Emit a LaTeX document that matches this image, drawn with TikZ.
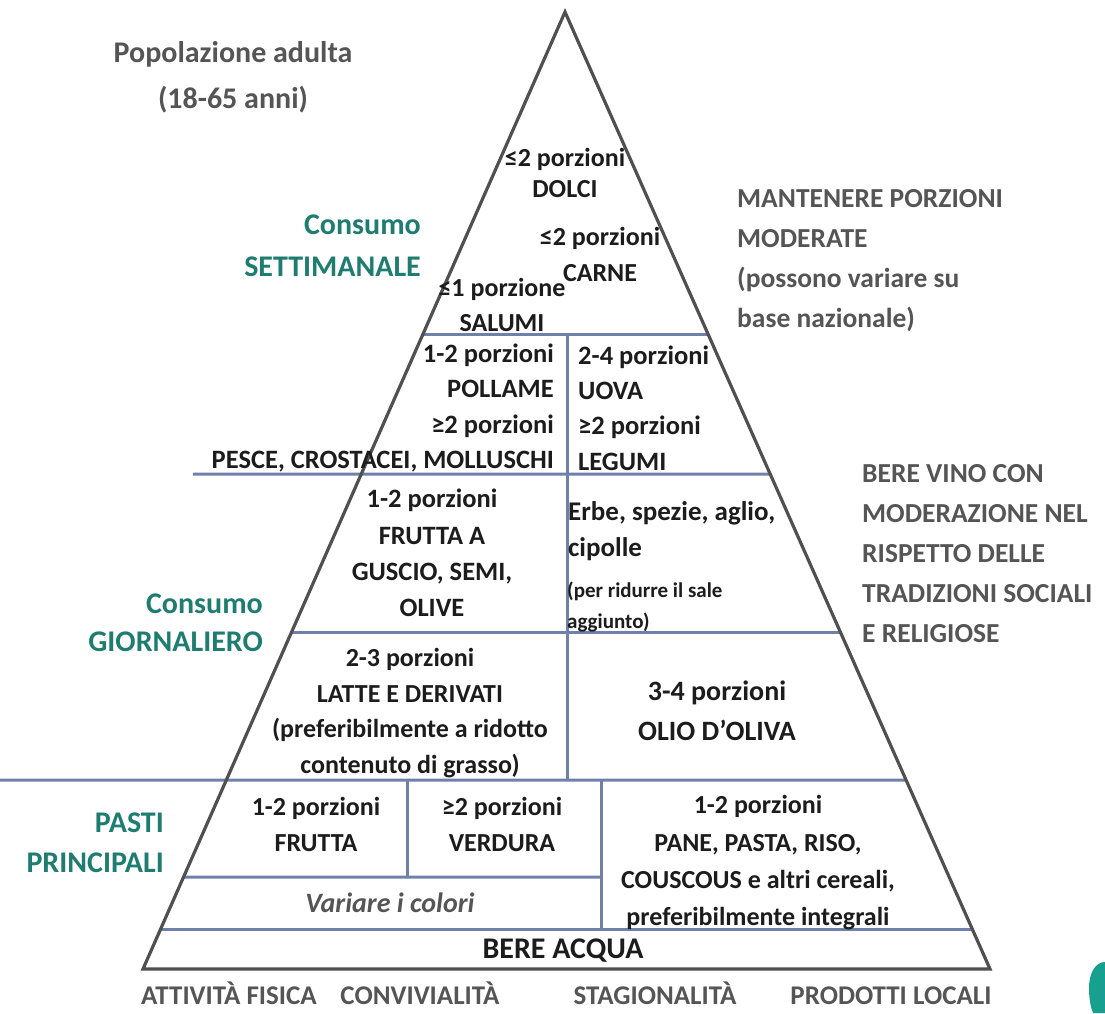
\documentclass[tikz,border=0pt]{standalone}
\usepackage{fontspec}
\setmainfont{Carlito}
\usetikzlibrary{calc}
\definecolor{edgecol}{HTML}{505050}
\definecolor{bandcol}{HTML}{6F80AB}
\definecolor{tealtxt}{HTML}{1E7D70}
\definecolor{graytxt}{HTML}{555555}
\definecolor{inktxt}{HTML}{1C1C1C}
\definecolor{blobcol}{HTML}{17A08E}
\newcommand\setfs[2]{\fontsize{#1}{#2}\selectfont}
\begin{document}
\begin{tikzpicture}[x=1pt,y=-1pt,
  band/.style={draw=bandcol,line width=3pt},
  pyr/.style={draw=edgecol,line width=3.2pt,line join=miter},
  inner/.style={text=inktxt,inner sep=0pt,align=center,font={\setfs{26}{36}\bfseries}},
  sidelab/.style={text=graytxt,inner sep=0pt,align=left,font={\setfs{27.5}{40}\bfseries}},
  teallab/.style={text=tealtxt,inner sep=0pt,align=right,font={\setfs{30}{42}\bfseries}},
  baselab/.style={text=graytxt,inner sep=0pt,anchor=base,font={\setfs{27}{32}\bfseries}}]
\useasboundingbox (0,0) rectangle (1105,1013);
\fill[white] (0,0) rectangle (1105,1013);
% pyramid corners
\coordinate (A) at (565,12);
\coordinate (BL) at (143,969);
\coordinate (BR) at (990,969);
% band end points on the edges
\coordinate (l1L) at ($(A)!0.3375!(BL)$);
\coordinate (l1R) at ($(A)!0.3375!(BR)$);
\coordinate (l2L) at (193,474);
\coordinate (l2R) at ($(A)!0.4828!(BR)$);
\coordinate (l3L) at ($(A)!0.6479!(BL)$);
\coordinate (l3R) at ($(A)!0.6479!(BR)$);
\coordinate (l4L) at (0,780);
\coordinate (l4R) at ($(A)!0.8025!(BR)$);
\coordinate (l5L) at ($(A)!0.9039!(BL)$);
\coordinate (l5R) at (601,877);
\coordinate (l6L) at ($(A)!0.9582!(BL)$);
\coordinate (l6R) at ($(A)!0.9582!(BR)$);
\coordinate (v1T) at (567,335);
\coordinate (v1B) at (567,780);
\coordinate (v2T) at (407,780);
\coordinate (v2B) at (407,877);
\coordinate (v3T) at (601,780);
\coordinate (v3B) at (601,929);
% bands
\draw[band] (l1L) -- (l1R);
\draw[band] (l2L) -- (l2R);
\draw[band] (l3L) -- (l3R);
\draw[band] (l4L) -- (l4R);
\draw[band] (l5L) -- (l5R);
\draw[band] (l6L) -- (l6R);
\draw[band] (v1T) -- (v1B);
\draw[band] (v2T) -- (v2B);
\draw[band] (v3T) -- (v3B);
% pyramid outline
\draw[pyr] (BL) -- (A) -- (BR) -- cycle;
% top section
\node[inner,font={\setfs{26}{31}\bfseries}] (dolci) at (565,173) {≤2 porzioni\\DOLCI};
\node[inner] (carne) at (600,254) {≤2 porzioni\\CARNE};
\node[inner,font={\setfs{26}{35}\bfseries}] (salumi) at (502,305) {≤1 porzione\\SALUMI};
% second section
\node[inner,align=right,anchor=east,font={\setfs{26.5}{35.3}\bfseries}] (pollame) at (554,408)
  {1-2 porzioni\\POLLAME\\≥2 porzioni\\PESCE, CROSTACEI, MOLLUSCHI};
\node[inner,align=left,anchor=west,font={\setfs{26.5}{35.3}\bfseries}] (uova) at (578,408)
  {2-4 porzioni\\UOVA\\≥2 porzioni\\LEGUMI};
% third section
\node[inner,font={\setfs{26.5}{36.3}\bfseries}] (guscio) at (432,553)
  {1-2 porzioni\\FRUTTA A\\GUSCIO, SEMI,\\OLIVE};
\node[inner,align=left,anchor=west,font={\setfs{27}{36}\bfseries}] (erbe) at (568,531)
  {Erbe, spezie, aglio,\\cipolle};
\node[inner,align=left,anchor=west,font={\setfs{21}{31}\bfseries}] (sale) at (567,607)
  {(per ridurre il sale\\aggiunto)};
% fourth section
\node[inner,font={\setfs{26}{35.7}\bfseries}] (latte) at (410,713)
  {2-3 porzioni\\LATTE E DERIVATI\\(preferibilmente a ridotto\\contenuto di grasso)};
\node[inner,font={\setfs{28}{40}\bfseries}] (olio) at (717,711) {3-4 porzioni\\OLIO D’OLIVA};
% fifth section
\node[inner] (frutta) at (316,824) {1-2 porzioni\\FRUTTA};
\node[inner] (verdura) at (502,824) {≥2 porzioni\\VERDURA};
\node[inner,font={\setfs{26}{37.3}\bfseries}] (pane) at (758,863)
  {1-2 porzioni\\PANE, PASTA, RISO,\\COUSCOUS e altri cereali,\\preferibilmente integrali};
\node[inner,text=graytxt,font={\setfs{28}{30}\bfseries\itshape}] (colori) at (390,903) {Variare i colori};
\node[inner,font={\setfs{30}{34}\bfseries}] (acqua) at (563,951) {BERE ACQUA};
% bottom labels
\node[baselab] (fisica) at (229,1004) {ATTIVITÀ FISICA};
\node[baselab] (convi) at (420,1004) {CONVIVIALITÀ};
\node[baselab] (stagi) at (655,1004) {STAGIONALITÀ};
\node[baselab] (locali) at (891,1004) {PRODOTTI LOCALI};
% left labels
\node[text=graytxt,inner sep=0pt,align=center,font={\setfs{30}{46}\bfseries}] (popol) at (233,77)
  {Popolazione adulta\\(18-65 anni)};
\node[teallab,anchor=east] (sett) at (421,246) {Consumo\\SETTIMANALE};
\node[teallab,anchor=east,font={\setfs{30}{38}\bfseries}] (giorn) at (263,623) {Consumo\\GIORNALIERO};
\node[teallab,anchor=east,font={\setfs{30}{40}\bfseries}] (pasti) at (164,843) {PASTI\\PRINCIPALI};
% right labels
\node[sidelab,anchor=west] (mantenere) at (737,261)
  {MANTENERE PORZIONI\\MODERATE\\(possono variare su\\base nazionale)};
\node[sidelab,anchor=west] (vino) at (862,554)
  {BERE VINO CON\\MODERAZIONE NEL\\RISPETTO DELLE\\TRADIZIONI SOCIALI\\E RELIGIOSE};
% teal blob at the corner
\fill[blobcol] (1105,962) .. controls (1096,962) and (1089,972) .. (1089,988)
  .. controls (1089,1000) and (1091,1008) .. (1093,1013) -- (1105,1013) -- cycle;
\end{tikzpicture}
\end{document}
